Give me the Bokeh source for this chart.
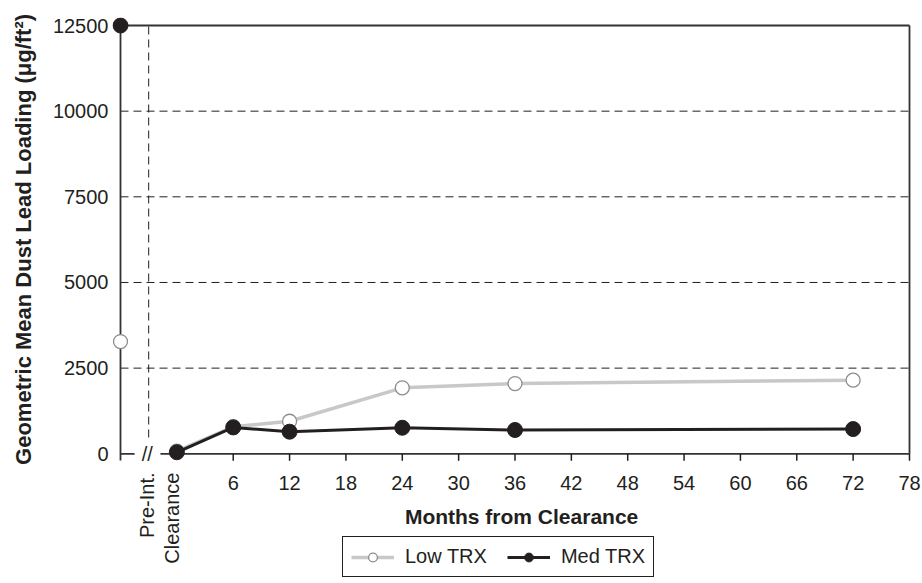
from math import pi
from bokeh.plotting import figure
from bokeh.models import Range1d, FixedTicker, Label, Legend, LegendItem
from bokeh.embed import file_html
from bokeh.resources import INLINE

# ---------------- data ----------------
months = [0, 6, 12, 24, 36, 72]
low_trx = [80, 790, 950, 1925, 2050, 2150]
med_trx = [45, 770, 645, 760, 695, 722]

pre_int_month = [-6]
low_trx_pre = [3275]
med_trx_pre = [12500]

series_names = ["Low TRX", "Med TRX"]
x_ticks = [6, 12, 18, 24, 30, 36, 42, 48, 54, 60, 66, 72, 78]
y_ticks = [0, 2500, 5000, 7500, 10000, 12500]
cat_labels = ["Pre-Int.", "Clearance"]
cat_label_pos = [-3.18, -0.52]
x_label = "Months from Clearance"
y_label = "Geometric Mean Dust Lead Loading (\u03bcg/ft\u00b2)"

# ---------------- styling constants ----------------
X_MIN, X_MAX = -6, 78
Y_MIN, Y_MAX = 0, 12500
BREAK_X = -3
FONT = "Liberation Sans"
INK = "#231f20"
AXIS = "#333333"
GRAY_LINE = "#c8c8c8"
GRAY_EDGE = "#8c8c8c"

# frame reaches near the bottom of the page so the labels and legend below the
# zero line live inside it
p = figure(width=922, height=583, frame_width=799, frame_height=560,
           output_backend="svg", toolbar_location=None,
           x_range=Range1d(-6.8517, 78.213), y_range=Range1d(-3610.2, 12733.5),
           min_border_left=112, min_border_right=11, min_border_top=17, min_border_bottom=0)
p.outline_line_color = None
p.xgrid.visible = False
p.ygrid.visible = False

# x axis (numeric months): labels lifted up to just under the zero line
xa = p.xaxis[0]
xa.ticker = FixedTicker(ticks=x_ticks)
xa.axis_line_color = None
xa.major_tick_in = 0
xa.major_tick_out = 0
xa.major_tick_line_color = None
xa.minor_tick_line_color = None
xa.major_label_text_font = FONT
xa.major_label_text_font_size = "20px"
xa.major_label_text_color = INK
xa.major_label_standoff = -102
xa.axis_label = " "
xa.axis_label_text_font_size = "10px"
xa.axis_label_standoff = 110

# y axis
ya = p.yaxis[0]
ya.ticker = FixedTicker(ticks=y_ticks)
ya.axis_line_color = None
ya.major_tick_in = 0
ya.major_tick_out = 0
ya.minor_tick_line_color = None
ya.major_label_text_font = FONT
ya.major_label_text_font_size = "20px"
ya.major_label_text_color = INK
ya.major_label_standoff = 4
ya.axis_label = "\u00a0" * 19 + y_label
ya.axis_label_text_font = FONT
ya.axis_label_text_font_size = "22px"
ya.axis_label_text_font_style = "bold"
ya.axis_label_text_color = INK
ya.axis_label_standoff = 14

# dashed grid lines (from axis to right border)
grid_y = [v for v in y_ticks if Y_MIN < v < Y_MAX]
p.segment(x0=[X_MIN] * len(grid_y), y0=grid_y, x1=[X_MAX] * len(grid_y), y1=grid_y,
          line_color=INK, line_width=1, line_dash="8 5")
# dashed separator between pre-intervention and clearance
p.segment(x0=[BREAK_X], y0=[476], x1=[BREAK_X], y1=[Y_MAX],
          line_color=INK, line_width=1, line_dash="8 5")

# frame / axis lines
p.segment(x0=[X_MIN, X_MIN, X_MAX, X_MIN, -1.75],
          y0=[-195, Y_MAX, Y_MIN, Y_MIN, Y_MIN],
          x1=[X_MIN, X_MAX, X_MAX, -4.5, X_MAX],
          y1=[Y_MAX, Y_MAX, Y_MAX, Y_MIN, Y_MIN],
          line_color=AXIS, line_width=1.8)
# x tick marks hanging from the zero line
TICK_LEN = 204
p.segment(x0=x_ticks, y0=[Y_MIN] * len(x_ticks), x1=x_ticks,
          y1=[Y_MIN - TICK_LEN] * len(x_ticks), line_color=INK, line_width=1.5)
p.add_layout(Label(x=-3.15, y=0, text="//", text_align="center", text_baseline="middle",
                   text_font=FONT, text_font_size="20px", text_color=INK))

# series
low_line = p.line(months, low_trx, line_color=GRAY_LINE, line_width=3.5)
low_pts = p.scatter(months, low_trx, marker="circle", size=14, fill_color="white",
                    line_color=GRAY_EDGE, line_width=1.3)
p.scatter(pre_int_month, low_trx_pre, marker="circle", size=14, fill_color="white",
          line_color=GRAY_EDGE, line_width=1.3)
med_line = p.line(months, med_trx, line_color=INK, line_width=3)
med_pts = p.scatter(months, med_trx, marker="circle", size=15, fill_color=INK, line_color=INK)
p.scatter(pre_int_month, med_trx_pre, marker="circle", size=15, fill_color=INK, line_color=INK)

# category labels (rotated, reading upward) and x axis title
for txt, xp in zip(cat_labels, cat_label_pos):
    p.add_layout(Label(x=xp, y=-546, text=txt, angle=pi / 2, text_align="right",
                       text_baseline="middle", text_font=FONT, text_font_size="20px",
                       text_color=INK))
p.add_layout(Label(x=36.7, y=-1830, text=x_label, text_align="center", text_baseline="middle",
                   text_font=FONT, text_font_size="21px", text_font_style="bold",
                   text_color=INK))

legend = Legend(items=[LegendItem(label=series_names[0], renderers=[low_line, low_pts]),
                       LegendItem(label=series_names[1], renderers=[med_line, med_pts])],
                orientation="horizontal", location=(230, 0),
                border_line_color=INK, border_line_width=1.5, border_line_alpha=1,
                padding=8, spacing=20, glyph_width=43, glyph_height=22, label_standoff=11,
                label_text_font=FONT, label_text_font_size="20px", label_text_color=INK,
                margin=0, background_fill_alpha=1)
p.add_layout(legend, "center")

open("out.html", "w").write(file_html(p, INLINE))
